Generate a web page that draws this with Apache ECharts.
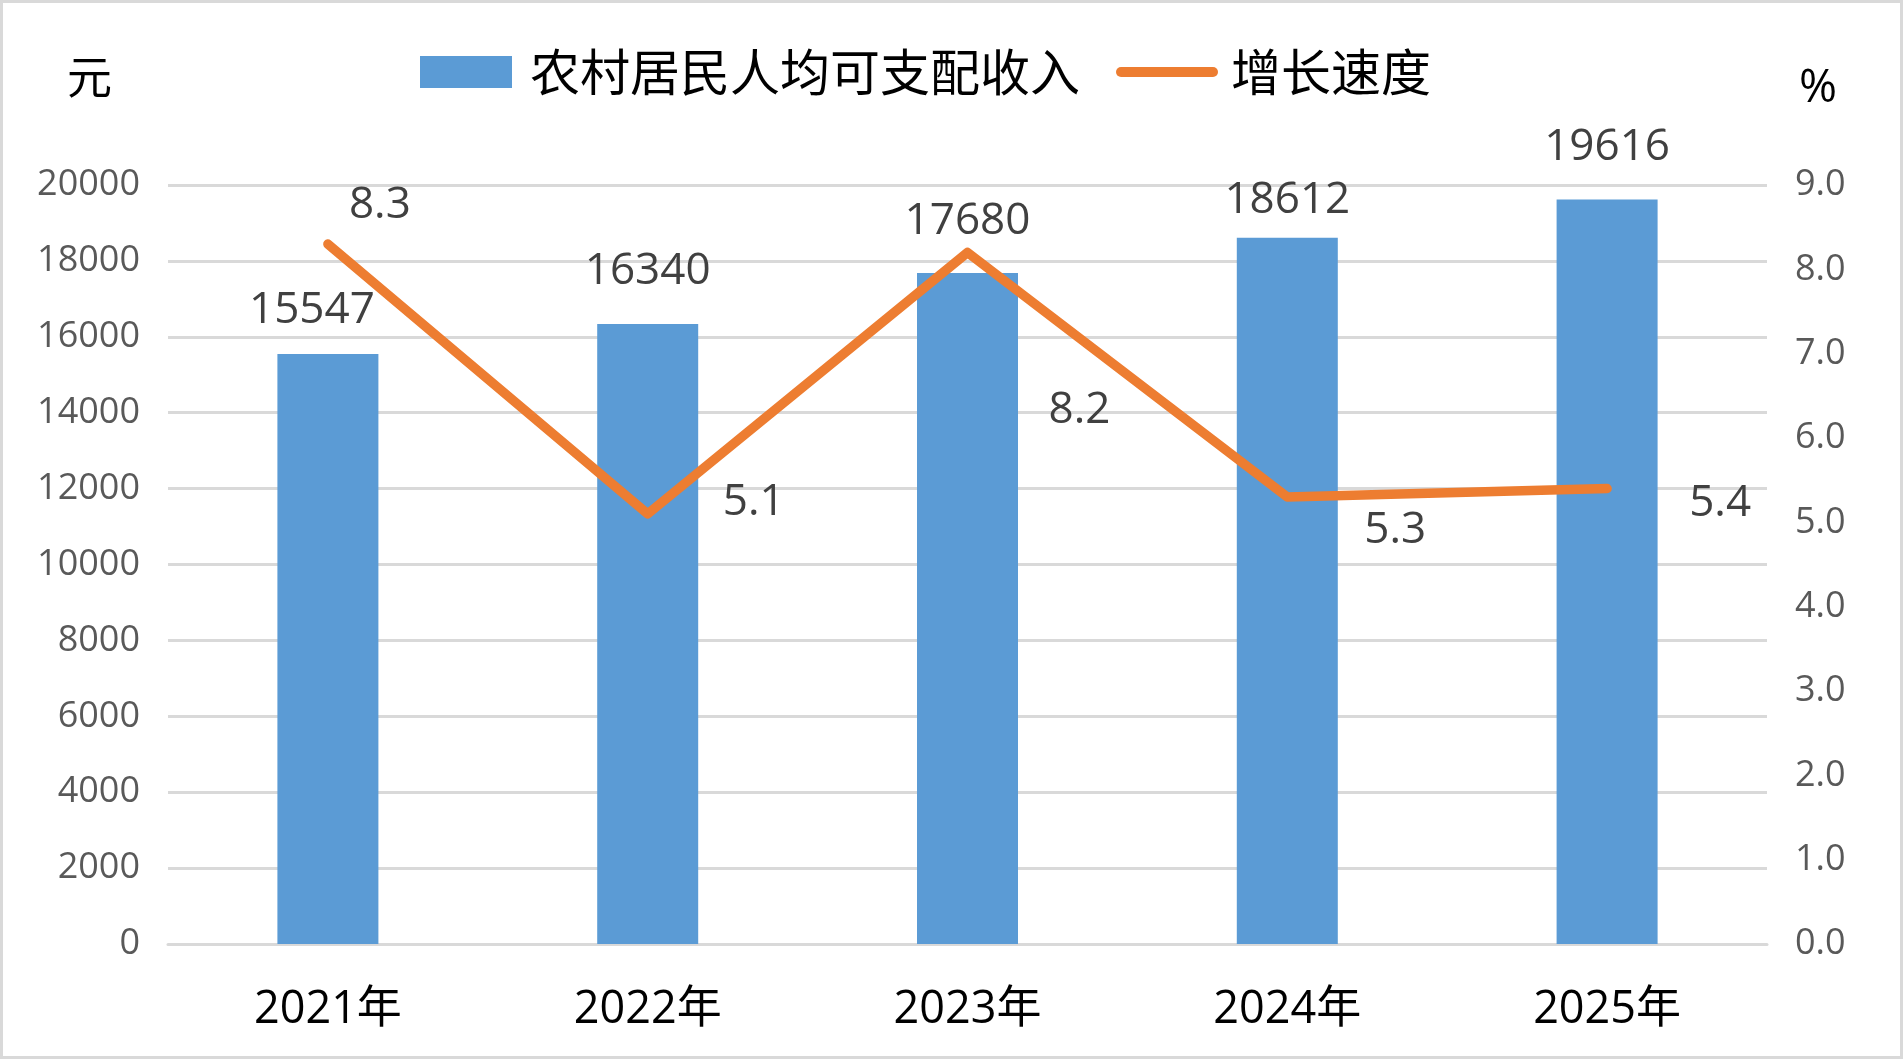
<!DOCTYPE html>
<html>
<head>
<meta charset="utf-8">
<title>农村居民人均可支配收入</title>
<script src="https://cdn.jsdelivr.net/npm/echarts@6/dist/echarts.min.js"></script>
<style>
    html, body { margin: 0; padding: 0; background: #fff; }
    #main { width: 1903px; height: 1059px; }
</style>
</head>
<body>
<div id="main"></div>
<script>
// data
var years = ['2021年', '2022年', '2023年', '2024年', '2025年'];
var income = [15547, 16340, 17680, 18612, 19616];
var growth = [8.3, 5.1, 8.2, 5.3, 5.4];

// label nudges, so the numbers sit where the original puts them
var barLabelOffsets = [[-16, 8], [0, 0], [0, 0], [0, 15], [0, 0]];
var lineLabelOffsets = [[52, -39], [106, -11], [112, 158], [108, 33], [113, 15]];

var FONT = '"Open Sans", "Noto Sans CJK SC", sans-serif';
var CJK = '"Noto Sans CJK SC", "Open Sans", sans-serif';

var chart = echarts.init(document.getElementById('main'));

var option = {
    backgroundColor: '#fff',
    animation: false,
    textStyle: { fontFamily: FONT },
    graphic: [
        {
            type: 'rect',
            shape: { x: 1.5, y: 1.5, width: 1900, height: 1056 },
            style: { fill: 'none', stroke: '#d9d9d9', lineWidth: 3 }
        },
        {
            type: 'text', left: 67, top: 54,
            style: { text: '元', font: '45px ' + CJK, fill: '#000' }
        },
        {
            type: 'text', left: 1799, top: 66,
            style: { text: '%', font: '46px ' + FONT, fill: '#000' }
        }
    ],
    legend: {
        left: 415,
        top: 42,
        itemWidth: 92,
        itemHeight: 32,
        itemGap: 36,
        textStyle: { fontFamily: CJK, fontSize: 50, color: '#000', padding: [0, 0, 0, 13] },
        data: [
            { name: '农村居民人均可支配收入', icon: 'rect' },
            {
                name: '增长速度',
                itemStyle: { opacity: 0 },
                lineStyle: { width: 10, cap: 'round' }
            }
        ]
    },
    grid: { left: 168, right: 136, top: 185, bottom: 115 },
    xAxis: {
        type: 'category',
        data: years,
        axisTick: { show: false },
        axisLine: { lineStyle: { color: '#d9d9d9', width: 3 } },
        axisLabel: { fontFamily: FONT, fontSize: 45, color: '#000', margin: 44 }
    },
    yAxis: [
        {
            type: 'value',
            min: 0, max: 20000, interval: 2000,
            axisLine: { show: false },
            axisTick: { show: false },
            splitLine: { lineStyle: { color: '#d9d9d9', width: 3 } },
            axisLabel: {
                fontSize: 36, color: '#595959', margin: 28,
                formatter: function (v) { return String(v); }
            }
        },
        {
            type: 'value',
            min: 0, max: 9, interval: 1,
            axisLine: { show: false },
            axisTick: { show: false },
            splitLine: { show: false },
            axisLabel: {
                fontSize: 36, color: '#595959', margin: 28,
                formatter: function (v) { return v.toFixed(1); }
            }
        }
    ],
    series: [
        {
            name: '农村居民人均可支配收入',
            type: 'bar',
            barWidth: 101,
            itemStyle: { color: '#5b9bd5' },
            label: {
                show: true, position: 'top', distance: 30,
                fontSize: 44, color: '#404040'
            },
            data: income.map(function (v, i) {
                return { value: v, label: { offset: barLabelOffsets[i] } };
            })
        },
        {
            name: '增长速度',
            type: 'line',
            yAxisIndex: 1,
            symbol: 'circle',
            symbolSize: 1,
            itemStyle: { color: '#ed7d31' },
            lineStyle: { color: '#ed7d31', width: 9.5, cap: 'round', join: 'round' },
            label: {
                show: true, position: 'inside',
                fontSize: 44, color: '#404040'
            },
            data: growth.map(function (v, i) {
                return { value: v, label: { offset: lineLabelOffsets[i] } };
            })
        }
    ]
};

chart.setOption(option);
</script>
</body>
</html>
